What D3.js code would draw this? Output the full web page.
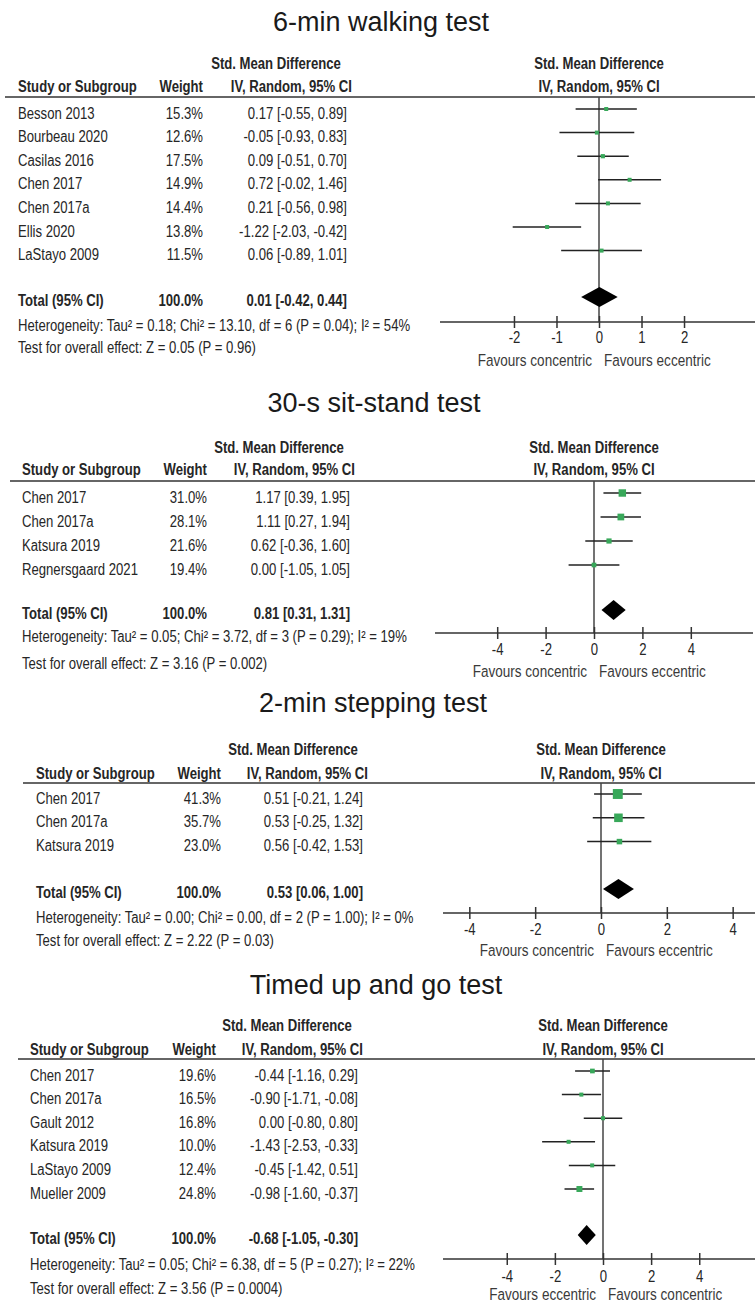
<!DOCTYPE html>
<html>
<head>
<meta charset="utf-8">
<script src="https://cdn.jsdelivr.net/npm/d3@7"></script>
<style>
  html, body { margin: 0; padding: 0; background: #fff; }
  svg { display: block; }
</style>
</head>
<body>
<svg id="chart" width="755" height="1303"></svg>
<script>
// ---------- 6-min walking test ----------
const walkStudies = ["Besson 2013", "Bourbeau 2020", "Casilas 2016", "Chen 2017", "Chen 2017a", "Ellis 2020", "LaStayo 2009"];
const walkWeights = [15.3, 12.6, 17.5, 14.9, 14.4, 13.8, 11.5];
const walkSmd = [0.17, -0.05, 0.09, 0.72, 0.21, -1.22, 0.06];
const walkLo = [-0.55, -0.93, -0.51, -0.02, -0.56, -2.03, -0.89];
const walkHi = [0.89, 0.83, 0.70, 1.46, 0.98, -0.42, 1.01];
const walkTotal = [0.01, -0.42, 0.44];
const walkTicks = [-2, -1, 0, 1, 2];

// ---------- 30-s sit-stand test ----------
const sitStudies = ["Chen 2017", "Chen 2017a", "Katsura 2019", "Regnersgaard 2021"];
const sitWeights = [31.0, 28.1, 21.6, 19.4];
const sitSmd = [1.17, 1.11, 0.62, 0.00];
const sitLo = [0.39, 0.27, -0.36, -1.05];
const sitHi = [1.95, 1.94, 1.60, 1.05];
const sitTotal = [0.81, 0.31, 1.31];
const sitTicks = [-4, -2, 0, 2, 4];

// ---------- 2-min stepping test ----------
const stepStudies = ["Chen 2017", "Chen 2017a", "Katsura 2019"];
const stepWeights = [41.3, 35.7, 23.0];
const stepSmd = [0.51, 0.53, 0.56];
const stepLo = [-0.21, -0.25, -0.42];
const stepHi = [1.24, 1.32, 1.53];
const stepTotal = [0.53, 0.06, 1.00];
const stepTicks = [-4, -2, 0, 2, 4];

// ---------- Timed up and go test ----------
const tugStudies = ["Chen 2017", "Chen 2017a", "Gault 2012", "Katsura 2019", "LaStayo 2009", "Mueller 2009"];
const tugWeights = [19.6, 16.5, 16.8, 10.0, 12.4, 24.8];
const tugSmd = [-0.44, -0.90, 0.00, -1.43, -0.45, -0.98];
const tugLo = [-1.16, -1.71, -0.80, -2.53, -1.42, -1.60];
const tugHi = [0.29, -0.08, 0.80, -0.33, 0.51, -0.37];
const tugTotal = [-0.68, -1.05, -0.30];
const tugTicks = [-4, -2, 0, 2, 4];

const titles = ["6-min walking test", "30-s sit-stand test", "2-min stepping test", "Timed up and go test"];
const heterogeneity = [
  "Heterogeneity: Tau\u00B2 = 0.18; Chi\u00B2 = 13.10, df = 6 (P = 0.04); I\u00B2 = 54%",
  "Heterogeneity: Tau\u00B2 = 0.05; Chi\u00B2 = 3.72, df = 3 (P = 0.29); I\u00B2 = 19%",
  "Heterogeneity: Tau\u00B2 = 0.00; Chi\u00B2 = 0.00, df = 2 (P = 1.00); I\u00B2 = 0%",
  "Heterogeneity: Tau\u00B2 = 0.05; Chi\u00B2 = 6.38, df = 5 (P = 0.27); I\u00B2 = 22%"
];
const overallEffect = [
  "Test for overall effect: Z = 0.05 (P = 0.96)",
  "Test for overall effect: Z = 3.16 (P = 0.002)",
  "Test for overall effect: Z = 2.22 (P = 0.03)",
  "Test for overall effect: Z = 3.56 (P = 0.0004)"
];
const favours = [
  ["Favours concentric", "Favours eccentric"],
  ["Favours concentric", "Favours eccentric"],
  ["Favours concentric", "Favours eccentric"],
  ["Favours eccentric", "Favours concentric"]
];

// Per-panel layout (pixel positions within the page)
const layouts = [
  { titleX: 381, titleY: 31, h1: 63, h2: 86, rule: 97, ruleX0: 5, row0: 113, step: 23.6, totalY: 300, hetY: 325, testY: 347,
    axisY: 322, tickY: 343, favY: 366, nameX: 18, weightR: 203, ciR: 347, smdCx: 276, zero: 599, axisL: 440 },
  { titleX: 374, titleY: 412, h1: 447, h2: 469, rule: 481, ruleX0: 10, row0: 497, step: 24, totalY: 613, hetY: 636, testY: 663,
    axisY: 633, tickY: 655, favY: 677, nameX: 22, weightR: 207, ciR: 350, smdCx: 279, zero: 594, axisL: 435 },
  { titleX: 373, titleY: 712, h1: 749, h2: 773, rule: 783, ruleX0: 23, row0: 798, step: 23.8, totalY: 892, hetY: 917, testY: 940,
    axisY: 913, tickY: 935, favY: 956, nameX: 36, weightR: 221, ciR: 363, smdCx: 293, zero: 601, axisL: 443 },
  { titleX: 376, titleY: 994, h1: 1025, h2: 1049, rule: 1059, ruleX0: 18, row0: 1075, step: 23.6, totalY: 1238, hetY: 1264, testY: 1288,
    axisY: 1259, tickY: 1282, favY: 1300, nameX: 30, weightR: 216, ciR: 358, smdCx: 287, zero: 603, axisL: 443 }
];

const panels = [
  { studies: walkStudies, weights: walkWeights, smd: walkSmd, lo: walkLo, hi: walkHi, total: walkTotal, ticks: walkTicks },
  { studies: sitStudies, weights: sitWeights, smd: sitSmd, lo: sitLo, hi: sitHi, total: sitTotal, ticks: sitTicks },
  { studies: stepStudies, weights: stepWeights, smd: stepSmd, lo: stepLo, hi: stepHi, total: stepTotal, ticks: stepTicks },
  { studies: tugStudies, weights: tugWeights, smd: tugSmd, lo: tugLo, hi: tugHi, total: tugTotal, ticks: tugTicks }
];
// half-width of each plot in effect-size units
const halfRange = [3.74, 6.57, 4.8, 6.65];

const W = 755;
const svg = d3.select("#chart");
const ink = "#262626";
const green = "#38a85a";
const f2 = v => v.toFixed(2);
const ciText = (m, l, h) => `${f2(m)} [${f2(l)}, ${f2(h)}]`;
const baseOff = 5.5;      // text baseline below the row centre
const condense = 0.82;    // horizontal squeeze giving a narrow sans face

// Condensed table text: each label sits in its own scaled group
function label(parent, x, y, str, opts = {}) {
  const gg = parent.append("g")
    .attr("transform", `translate(${x},${y}) scale(${condense},1)`);
  return gg.append("text")
    .attr("text-anchor", opts.anchor || "start")
    .attr("font-family", "'Liberation Sans', Arial, sans-serif")
    .attr("font-size", opts.size || 16)
    .attr("font-weight", opts.bold ? "bold" : "normal")
    .attr("fill", opts.fill || ink)
    .text(str);
}

panels.forEach((p, i) => {
  const L = layouts[i];
  const g = svg.append("g");
  const x = d3.scaleLinear()
    .domain([-halfRange[i], halfRange[i]])
    .range([L.axisL, 2 * L.zero - L.axisL]);
  const rowY = d3.scaleLinear().domain([0, 1]).range([L.row0, L.row0 + L.step]);
  // square side grows with study weight
  const side = d3.scaleLinear().domain([0, 100]).range([0, 24]);

  // Title
  g.append("text")
    .attr("x", L.titleX).attr("y", L.titleY)
    .attr("text-anchor", "middle")
    .attr("font-family", "'Liberation Sans', Arial, sans-serif")
    .attr("font-size", 27).attr("fill", "#1a1a1a")
    .text(titles[i]);

  // Column headers
  label(g, L.smdCx, L.h1 + baseOff, "Std. Mean Difference", { anchor: "middle", bold: true });
  label(g, L.nameX, L.h2 + baseOff, "Study or Subgroup", { bold: true });
  label(g, L.weightR, L.h2 + baseOff, "Weight", { anchor: "end", bold: true });
  label(g, L.ciR + 5, L.h2 + baseOff, "IV, Random, 95% CI", { anchor: "end", bold: true });
  label(g, L.zero, L.h1 + baseOff, "Std. Mean Difference", { anchor: "middle", bold: true });
  label(g, L.zero, L.h2 + baseOff, "IV, Random, 95% CI", { anchor: "middle", bold: true });

  // Header rule
  g.append("line").attr("x1", L.ruleX0).attr("x2", W).attr("y1", L.rule).attr("y2", L.rule)
    .attr("stroke", "#333").attr("stroke-width", 1.5);

  // Study rows
  p.studies.forEach((s, k) => {
    const y = rowY(k) + baseOff;
    label(g, L.nameX, y, s);
    label(g, L.weightR, y, p.weights[k].toFixed(1) + "%", { anchor: "end" });
    label(g, L.ciR, y, ciText(p.smd[k], p.lo[k], p.hi[k]), { anchor: "end" });
  });

  // Total row
  label(g, L.nameX, L.totalY + baseOff, "Total (95% CI)", { bold: true });
  label(g, L.weightR, L.totalY + baseOff, "100.0%", { anchor: "end", bold: true });
  label(g, L.ciR, L.totalY + baseOff, ciText(p.total[0], p.total[1], p.total[2]), { anchor: "end", bold: true });

  // Heterogeneity and overall effect
  label(g, L.nameX, L.hetY + baseOff, heterogeneity[i]);
  label(g, L.nameX, L.testY + baseOff, overallEffect[i]);

  // Line of no effect
  g.append("line").attr("x1", x(0)).attr("x2", x(0)).attr("y1", L.rule).attr("y2", L.axisY)
    .attr("stroke", "#444").attr("stroke-width", 1.5);

  // Confidence intervals and weighted squares
  p.studies.forEach((s, k) => {
    const y = rowY(k) - 4;
    g.append("line").attr("x1", x(p.lo[k])).attr("x2", x(p.hi[k])).attr("y1", y).attr("y2", y)
      .attr("stroke", "#222").attr("stroke-width", 1.5);
    const sd = Math.max(4, side(p.weights[k]));
    g.append("rect").attr("x", x(p.smd[k]) - sd / 2).attr("y", y - sd / 2)
      .attr("width", sd).attr("height", sd).attr("fill", green);
  });

  // Pooled diamond
  const dy = L.totalY - 3;
  const [m, lo, hi] = p.total;
  g.append("path")
    .attr("d", `M${x(lo)},${dy} L${x(m)},${dy - 10} L${x(hi)},${dy} L${x(m)},${dy + 10} Z`)
    .attr("fill", "#000");

  // Axis
  const axis = d3.axisBottom(x).tickValues(p.ticks).tickSize(5).tickFormat(d => String(d));
  const ag = g.append("g").attr("transform", `translate(0,${L.axisY})`).call(axis);
  ag.select(".domain").attr("stroke", "#333").attr("stroke-width", 1.5)
    .attr("d", `M${L.axisL},0H${2 * L.zero - L.axisL}`);
  ag.selectAll(".tick line").attr("y1", -6).attr("y2", 6).attr("stroke", "#333").attr("stroke-width", 1.5);
  ag.selectAll(".tick text")
    .attr("y", 0).attr("dy", 0)
    .attr("transform", `translate(0,${L.tickY - L.axisY}) scale(${condense},1)`)
    .attr("font-family", "'Liberation Sans', Arial, sans-serif")
    .attr("font-size", 16).attr("fill", ink);

  // Favours labels
  label(g, x(0) - 7, L.favY, favours[i][0], { anchor: "end", size: 16.5, fill: "#3a3a3a" });
  label(g, x(0) + 5, L.favY, favours[i][1], { size: 16.5, fill: "#3a3a3a" });
});
</script>
</body>
</html>
